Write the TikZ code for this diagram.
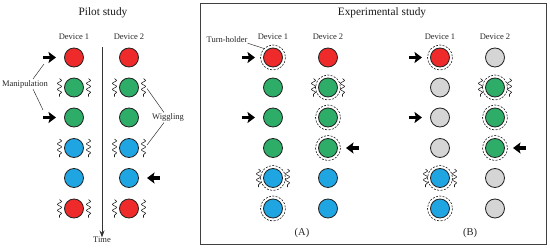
\documentclass[tikz,border=0pt]{standalone}
\usepackage{fontspec}
\setmainfont{Liberation Serif}
\usetikzlibrary{arrows.meta,decorations.pathmorphing}
\definecolor{cred}{HTML}{EE2A2A}
\definecolor{cgreen}{HTML}{2EAD68}
\definecolor{cblue}{HTML}{1FA5E2}
\definecolor{cgray}{HTML}{D5D5D5}
\definecolor{cline}{HTML}{222222}
\newcommand\ringit[1]{\draw[ring] (#1.center) circle[radius=12.5];}
\newcommand\wigit[1]{%
  \draw[wig] ([shift={(-14.5,-9)}]#1.center) -- ([shift={(-14.5,9)}]#1.center);
  \draw[wig] ([shift={(14.5,-9)}]#1.center) -- ([shift={(14.5,9)}]#1.center);}
\newcommand\arrL[1]{\draw[bigarrow] ([xshift=-31pt]#1.center) -- ([xshift=-18pt]#1.center);}
\newcommand\arrR[1]{\draw[bigarrow] ([xshift=31pt]#1.center) -- ([xshift=18pt]#1.center);}
\begin{document}
\begin{tikzpicture}[x=1pt,y=-1pt,
  dev/.style={circle,draw=cline,line width=0.8pt,minimum size=19pt,inner sep=0pt},
  ring/.style={draw=cline,dash pattern=on 2pt off 1.4pt,line width=0.6pt},
  wig/.style={draw=cline,decorate,decoration={snake,segment length=6pt,amplitude=2.1pt},line width=0.6pt},
  bigarrow/.style={draw=black,line width=3.4pt,-{Stealth[length=7.5pt,width=11pt,inset=1.5pt]}},
  lbl/.style={font=\fontsize{8.5}{10}\selectfont,text=black!85,inner sep=1pt},
  ttl/.style={font=\fontsize{11.3}{13}\selectfont,text=black!90,inner sep=1pt},
  ptr/.style={line width=0.5pt,draw=black!80}]
\useasboundingbox (0,0) rectangle (550,249);

% ---------------- Pilot study ----------------
\node[ttl] (ptitle) at (103,13) {Pilot study};
\node[lbl] (pd1) at (74,37) {Device 1};
\node[lbl] (pd2) at (129,37) {Device 2};

\node[dev,fill=cred]   (p1a) at (74,57.5) {};
\node[dev,fill=cgreen] (p1b) at (74,87.5) {};
\node[dev,fill=cgreen] (p1c) at (74,117.5) {};
\node[dev,fill=cblue]  (p1d) at (74,148) {};
\node[dev,fill=cblue]  (p1e) at (74,178) {};
\node[dev,fill=cred]   (p1f) at (74,208.5) {};

\node[dev,fill=cred]   (p2a) at (129,57.5) {};
\node[dev,fill=cgreen] (p2b) at (129,87.5) {};
\node[dev,fill=cgreen] (p2c) at (129,117.5) {};
\node[dev,fill=cblue]  (p2d) at (129,148) {};
\node[dev,fill=cblue]  (p2e) at (129,178) {};
\node[dev,fill=cred]   (p2f) at (129,208.5) {};

\wigit{p1b}\wigit{p1d}\wigit{p1f}
\wigit{p2b}\wigit{p2d}\wigit{p2f}
\arrL{p1a}\arrL{p1c}\arrR{p2e}

\coordinate (ttop) at (102,47);
\node[lbl] (time) at (102,240) {Time};
\draw[line width=0.9pt,draw=black!80,-{Stealth[length=7pt,width=5pt]}] (ttop) -- ([yshift=-1.5pt]time.north);

\node[lbl] (man) at (25,84) {Manipulation};
\coordinate (m1) at (44,64);
\coordinate (m2) at (43,110);
\draw[ptr] ([xshift=8pt]man.north) -- (m1);
\draw[ptr] ([xshift=8pt]man.south) -- (m2);

\node[lbl] (wg) at (168,117.5) {Wiggling};
\draw[ptr] ([xshift=-4pt]wg.north) -- ([shift={(18,1)}]p2b.center);
\draw[ptr] ([xshift=-4pt]wg.south) -- ([shift={(18,-3)}]p2d.center);

% ---------------- Experimental study ----------------
\draw[line width=1pt,draw=black!75] (200,3) rectangle (546,244);
\node[ttl] (etitle) at (382,13) {Experimental study};

% (A)
\node[lbl] (ad1) at (273,37) {Device 1};
\node[lbl] (ad2) at (328,37) {Device 2};
\node[dev,fill=cred]   (a1a) at (273,57.5) {};
\node[dev,fill=cgreen] (a1b) at (273,87.5) {};
\node[dev,fill=cgreen] (a1c) at (273,117.5) {};
\node[dev,fill=cgreen] (a1d) at (273,148) {};
\node[dev,fill=cblue]  (a1e) at (273,178) {};
\node[dev,fill=cblue]  (a1f) at (273,208.5) {};
\node[dev,fill=cred]   (a2a) at (328,57.5) {};
\node[dev,fill=cgreen] (a2b) at (328,87.5) {};
\node[dev,fill=cgreen] (a2c) at (328,117.5) {};
\node[dev,fill=cgreen] (a2d) at (328,148) {};
\node[dev,fill=cblue]  (a2e) at (328,178) {};
\node[dev,fill=cblue]  (a2f) at (328,208.5) {};
\ringit{a1a}\ringit{a1e}\ringit{a1f}
\ringit{a2b}\ringit{a2c}\ringit{a2d}
\wigit{a1e}\wigit{a2b}
\arrL{a1a}\arrL{a1c}\arrR{a2d}
\node[lbl,font=\fontsize{10.5}{12}\selectfont] (labA) at (302,233) {(A)};

\node[lbl] (th) at (227,40) {Turn-holder};
\draw[ptr] ([shift={(-1,-1)}]th.south east) -- ([shift={(-9,-9)}]a1a.center);

% (B)
\node[lbl] (bd1) at (440,37) {Device 1};
\node[lbl] (bd2) at (495,37) {Device 2};
\node[dev,fill=cred]   (b1a) at (440,57.5) {};
\node[dev,fill=cgray]  (b1b) at (440,87.5) {};
\node[dev,fill=cgray]  (b1c) at (440,117.5) {};
\node[dev,fill=cgray]  (b1d) at (440,148) {};
\node[dev,fill=cblue]  (b1e) at (440,178) {};
\node[dev,fill=cblue]  (b1f) at (440,208.5) {};
\node[dev,fill=cgray]  (b2a) at (495,57.5) {};
\node[dev,fill=cgreen] (b2b) at (495,87.5) {};
\node[dev,fill=cgreen] (b2c) at (495,117.5) {};
\node[dev,fill=cgreen] (b2d) at (495,148) {};
\node[dev,fill=cgray]  (b2e) at (495,178) {};
\node[dev,fill=cgray]  (b2f) at (495,208.5) {};
\ringit{b1a}\ringit{b1e}\ringit{b1f}
\ringit{b2b}\ringit{b2c}\ringit{b2d}
\wigit{b1e}\wigit{b2b}
\arrL{b1a}\arrL{b1c}\arrR{b2d}
\node[lbl,font=\fontsize{10.5}{12}\selectfont] (labB) at (470,233) {(B)};
\end{tikzpicture}
\end{document}
